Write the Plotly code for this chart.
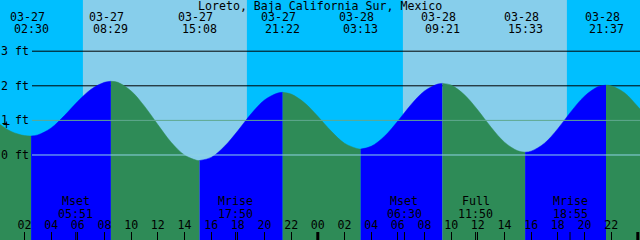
import pandas as pd
import plotly.graph_objects as go

# ---------------- data ----------------
station = "Loreto, Baja California Sur, Mexico"

tide_times = ["2021-03-27 02:30", "2021-03-27 08:29", "2021-03-27 15:08", "2021-03-27 21:22",
              "2021-03-28 03:13", "2021-03-28 09:21", "2021-03-28 15:33", "2021-03-28 21:37"]
tide_heights = [0.55, 2.13, -0.16, 1.81, 0.17, 2.07, 0.08, 2.02]

# hourly heights (ft), starting 2021-03-26 23:00
hourly_start = "2021-03-26 23:00"
hourly_heights = [1.25, 0.93, 0.68, 0.56, 0.58, 0.78, 1.14, 1.55, 1.90, 2.10,
                  2.10, 1.85, 1.41, 0.88, 0.37, 0.00, -0.16, -0.07, 0.25, 0.70,
                  1.19, 1.59, 1.79, 1.76, 1.51, 1.12, 0.69, 0.34, 0.18, 0.25,
                  0.54, 0.98, 1.46, 1.85, 2.05, 2.02, 1.74, 1.30, 0.80, 0.37,
                  0.12, 0.11, 0.34, 0.76, 1.26, 1.70, 1.97, 2.00, 1.80, 1.40,
                  0.95]

sunrise = ["2021-03-27 06:23", "2021-03-28 06:23"]
sunset = ["2021-03-27 18:41", "2021-03-28 18:41"]

moon_events = ["Mset", "Mrise", "Mset", "Full", "Mrise"]
moon_times = ["2021-03-27 05:51", "2021-03-27 17:50", "2021-03-28 06:30",
              "2021-03-28 11:50", "2021-03-28 18:55"]

midnights = ["2021-03-28 00:00", "2021-03-29 00:00"]
depth_ticks = [0, 1, 2, 3]
depth_labels = ["0 ft", "1 ft", "2 ft", "3 ft"]

x_range = ["2021-03-27 00:09:54", "2021-03-29 00:09:54"]
y_range = [-2.457, 4.48]

# ---------------- styles ----------------
NIGHT = "#00BFFF"
DAY = "#87CEEB"
FLOOD = "#0000FF"
EBB = "#2E8B57"
FONT = dict(family="DejaVu Sans Mono", size=11.6, color="black")

# ---------------- build curve ----------------
hourly_t = pd.date_range(hourly_start, periods=len(hourly_heights), freq="h")
curve = pd.concat([
    pd.Series(hourly_heights, index=hourly_t),
    pd.Series(tide_heights, index=pd.to_datetime(tide_times)),
]).sort_index()
curve = curve[~curve.index.duplicated()]

bounds = [hourly_t[0]] + list(pd.to_datetime(tide_times)) + [hourly_t[-1]]

fig = go.Figure()
for a, b in zip(bounds[:-1], bounds[1:]):
    seg = curve[(curve.index >= a) & (curve.index <= b)]
    rising = seg.iloc[-1] > seg.iloc[0]
    col = FLOOD if rising else EBB
    fig.add_trace(go.Scatter(x=[a, b], y=[y_range[0], y_range[0]], mode="lines",
                             line=dict(width=0, color=col), hoverinfo="skip",
                             showlegend=False))
    fig.add_trace(go.Scatter(x=seg.index, y=seg.values, mode="lines",
                             line=dict(width=0.5, color=col, shape="spline"),
                             fill="tonexty", fillcolor=col, hoverinfo="skip",
                             showlegend=False))

shapes = []
for sr, ss in zip(sunrise, sunset):
    shapes.append(dict(type="rect", xref="x", yref="paper", x0=sr, x1=ss, y0=0, y1=1,
                       fillcolor=DAY, line=dict(width=0), layer="below"))
line_x0 = 32 / 640
for d in depth_ticks:
    if d >= 2:
        shapes.append(dict(type="line", xref="paper", yref="y", x0=line_x0, x1=1, y0=d, y1=d,
                           line=dict(color="black", width=1), layer="below"))
    elif d == 1:
        shapes.append(dict(type="line", xref="paper", yref="y", x0=line_x0, x1=1, y0=d, y1=d,
                           line=dict(color="#60A890", width=1), layer="above"))
    else:
        shapes.append(dict(type="line", xref="paper", yref="y", x0=line_x0, x1=1, y0=d, y1=d,
                           line=dict(color="#8FD3E6", width=1), layer="above"))
for mt in moon_times:
    shapes.append(dict(type="line", xref="x", yref="paper", x0=mt, x1=mt, y0=0, y1=8 / 240,
                       line=dict(color="black", width=1), layer="above"))
for m in midnights:
    shapes.append(dict(type="line", xref="x", yref="paper", x0=m, x1=m, y0=0, y1=8 / 240,
                       line=dict(color="black", width=3), layer="above"))

ann = [dict(text=station, xref="paper", yref="paper", x=0.5, y=1 - 6 / 240,
            showarrow=False, font=FONT, xanchor="center", yanchor="middle")]
for d, lab in zip(depth_ticks, depth_labels):
    ann.append(dict(text=lab, xref="paper", yref="y", x=0, y=d, xshift=-1,
                    showarrow=False, font=FONT, xanchor="left", yanchor="middle"))
for t in pd.to_datetime(tide_times):
    ann.append(dict(text=t.strftime("%m-%d"), x=t, xref="x", yref="paper", y=1 - 17.5 / 240,
                    xshift=-4, showarrow=False, font=FONT, yanchor="middle"))
    ann.append(dict(text=t.strftime("%H:%M"), x=t, xref="x", yref="paper", y=1 - 29 / 240,
                    showarrow=False, font=FONT, yanchor="middle"))
for name, t in zip(moon_events, pd.to_datetime(moon_times)):
    ann.append(dict(text=name, x=t, xref="x", yref="paper", y=(240 - 201) / 240,
                    showarrow=False, font=FONT, yanchor="middle"))
    ann.append(dict(text=t.strftime("%H:%M"), x=t, xref="x", yref="paper", y=(240 - 213.5) / 240,
                    showarrow=False, font=FONT, yanchor="middle"))
ann.append(dict(text="+", xref="paper", yref="paper", x=6 / 640, y=(240 - 125) / 240,
                showarrow=False, font=FONT, xanchor="center", yanchor="middle"))

fig.update_layout(
    width=640, height=240, margin=dict(l=0, r=0, t=0, b=0),
    paper_bgcolor=NIGHT, plot_bgcolor=NIGHT,
    shapes=shapes, annotations=ann, font=FONT,
    xaxis=dict(type="date", range=x_range, tickformat="%H", dtick=7200000,
               tick0="2021-03-27 00:00", ticks="inside", ticklen=8, tickcolor="black",
               tickwidth=1, ticklabelposition="inside", showgrid=False, zeroline=False,
               showline=False, tickfont=FONT, fixedrange=True),
    yaxis=dict(range=y_range, showticklabels=False, ticks="", showgrid=False,
               zeroline=False, showline=False, fixedrange=True),
)

fig.write_html("out.html", config={"displayModeBar": False})
